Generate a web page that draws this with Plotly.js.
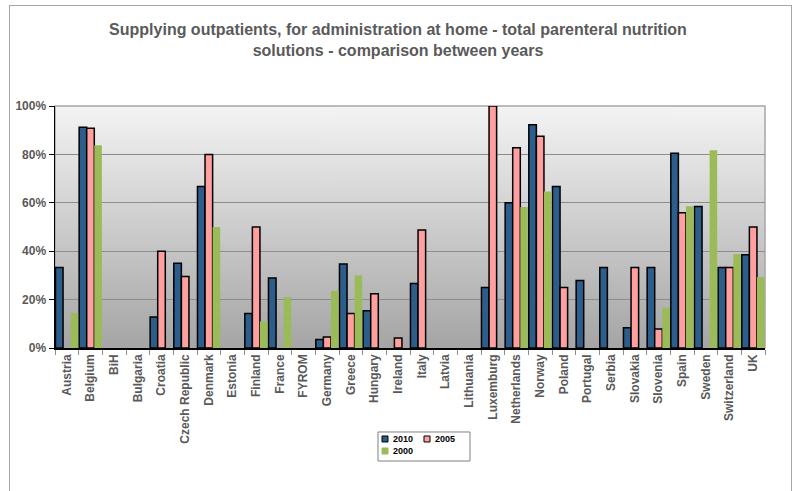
<!DOCTYPE html>
<html>
<head>
<meta charset="utf-8">
<script src="https://cdn.plot.ly/plotly-3.0.1.min.js"></script>
<style>
  html, body { margin: 0; padding: 0; background: #ffffff; }
  #frame { position: absolute; left: 9px; top: 5px; width: 781px; height: 520px; border: 1px solid #a6a6a6; pointer-events: none; }
  #chart { position: absolute; left: 0; top: 0; width: 796px; height: 491px; }
</style>
</head>
<body>
<div id="frame"></div>
<div id="chart"></div>
<script>
const categories = ["Austria", "Belgium", "BiH", "Bulgaria", "Croatia", "Czech Republic", "Denmark", "Estonia", "Finland", "France", "FYROM", "Germany", "Greece", "Hungary", "Ireland", "Italy", "Latvia", "Lithuania", "Luxemburg", "Netherlands", "Norway", "Poland", "Portugal", "Serbia", "Slovakia", "Slovenia", "Spain", "Sweden", "Switzerland", "UK"];

const values2010 = [33.3, 91.2, null, null, 12.8, 35.0, 66.7, null, 14.3, 28.9, null, 3.5, 34.7, 15.4, null, 26.7, null, null, 25.0, 60.0, 92.3, 66.7, 27.9, 33.3, 8.4, 33.3, 80.5, 58.5, 33.3, 38.5];
const values2005 = [null, 90.8, null, null, 40.0, 29.5, 80.0, null, 50.0, null, null, 4.5, 14.3, 22.4, 4.1, 48.8, null, null, 100.0, 82.7, 87.5, 25.0, null, null, 33.3, 7.8, 55.9, null, 33.3, 50.0];
const values2000 = [14.4, 83.8, null, null, null, null, 50.0, null, 11.0, 21.0, null, 23.6, 30.0, null, null, null, null, null, null, 58.3, 64.7, null, null, null, null, 16.7, 58.6, 81.7, 38.8, 29.3];

const seriesNames = ["2010", "2005", "2000"];
const seriesColors = ["#2d5d8b", "#ff9f9f", "#9bbb59"];
const yTickValues = [0, 20, 40, 60, 80, 100];
const yTickLabels = ["0%", "20%", "40%", "60%", "80%", "100%"];

// gradient background for the plot area
const cv = document.createElement('canvas');
cv.width = 4; cv.height = 256;
const ctx = cv.getContext('2d');
const g = ctx.createLinearGradient(0, 0, 0, 256);
g.addColorStop(0, '#f4f4f4');
g.addColorStop(1, '#a5a5a5');
ctx.fillStyle = g;
ctx.fillRect(0, 0, 4, 256);
const gradURL = cv.toDataURL('image/png');

const FONT = 'Liberation Sans, Arial, sans-serif';
const labelFont = {family: FONT, size: 12, color: '#595959', weight: 'bold'};

const traces = [
  {type: 'bar', name: seriesNames[0], x: categories, y: values2010,
   marker: {color: seriesColors[0], line: {color: '#000000', width: 1.5}}},
  {type: 'bar', name: seriesNames[1], x: categories, y: values2005,
   marker: {color: seriesColors[1], line: {color: '#000000', width: 1.5}}},
  {type: 'bar', name: seriesNames[2], x: categories, y: values2000,
   marker: {color: seriesColors[2], line: {width: 0}}}
];

// hand-built legend (small swatches like the original)
const legendItems = [
  {sx0: 0.4606, sx1: 0.4690, sy0: -0.3884, sy1: -0.3636, tx: 0.4732, ty: -0.3760, border: true},
  {sx0: 0.5197, sx1: 0.5282, sy0: -0.3884, sy1: -0.3636, tx: 0.5324, ty: -0.3760, border: true},
  {sx0: 0.4606, sx1: 0.4690, sy0: -0.4380, sy1: -0.4132, tx: 0.4732, ty: -0.4256, border: false}
];
const legendShapes = [{type: 'rect', xref: 'paper', yref: 'paper', x0: 0.4549, x1: 0.5845, y0: -0.467, y1: -0.347,
  line: {color: '#808080', width: 1}, fillcolor: 'rgba(0,0,0,0)', layer: 'above'}];
const legendAnns = [];
legendItems.forEach((it, i) => {
  legendShapes.push({type: 'rect', xref: 'paper', yref: 'paper', x0: it.sx0, x1: it.sx1, y0: it.sy0, y1: it.sy1,
    fillcolor: seriesColors[i], line: {color: it.border ? '#000000' : seriesColors[i], width: 1}, layer: 'above'});
  legendAnns.push({xref: 'paper', yref: 'paper', x: it.tx, y: it.ty, xanchor: 'left', yanchor: 'middle',
    text: seriesNames[i], showarrow: false, font: {family: FONT, size: 9, color: '#000000', weight: 'bold'}});
});

const layout = {
  width: 796, height: 491,
  margin: {l: 55, r: 31, t: 106, b: 143},
  paper_bgcolor: 'rgba(0,0,0,0)',
  plot_bgcolor: 'rgba(0,0,0,0)',
  title: {
    text: 'Supplying outpatients, for administration at home - total parenteral nutrition<br>solutions - comparison between years',
    font: {family: FONT, size: 16, color: '#5a5a5a', weight: 'bold'},
    x: 0.5, xref: 'container', xanchor: 'center', y: 0.928, yref: 'container', yanchor: 'top'
  },
  barmode: 'group',
  bargap: 0.04,
  bargroupgap: 0,
  showlegend: false,
  xaxis: {
    type: 'category',
    tickangle: -90,
    tickfont: labelFont,
    ticks: 'outside', ticklen: 5, tickcolor: '#8c8c8c', tickson: 'boundaries',
    showline: true, linecolor: '#000000', linewidth: 1.5,
    showgrid: false, zeroline: false,
    fixedrange: true
  },
  yaxis: {
    range: [0, 100],
    tickvals: yTickValues, ticktext: yTickLabels,
    tickfont: labelFont,
    ticks: 'outside', ticklen: 5, tickcolor: '#000000',
    showline: true, linecolor: '#000000', linewidth: 1.5,
    showgrid: true, gridcolor: '#8c8c8c', gridwidth: 1,
    zeroline: false,
    fixedrange: true
  },
  images: [{source: gradURL, xref: 'paper', yref: 'paper', x: 0, y: 1, sizex: 1, sizey: 1,
            sizing: 'stretch', xanchor: 'left', yanchor: 'top', layer: 'below'}],
  shapes: [
    {type: 'rect', xref: 'paper', yref: 'paper', x0: 0, x1: 1, y0: 0, y1: 1,
     line: {color: '#a6a6a6', width: 1.5}, layer: 'below'}
  ].concat(legendShapes),
  annotations: legendAnns
};

Plotly.newPlot('chart', traces, layout, {displayModeBar: false, staticPlot: true});
</script>
</body>
</html>
